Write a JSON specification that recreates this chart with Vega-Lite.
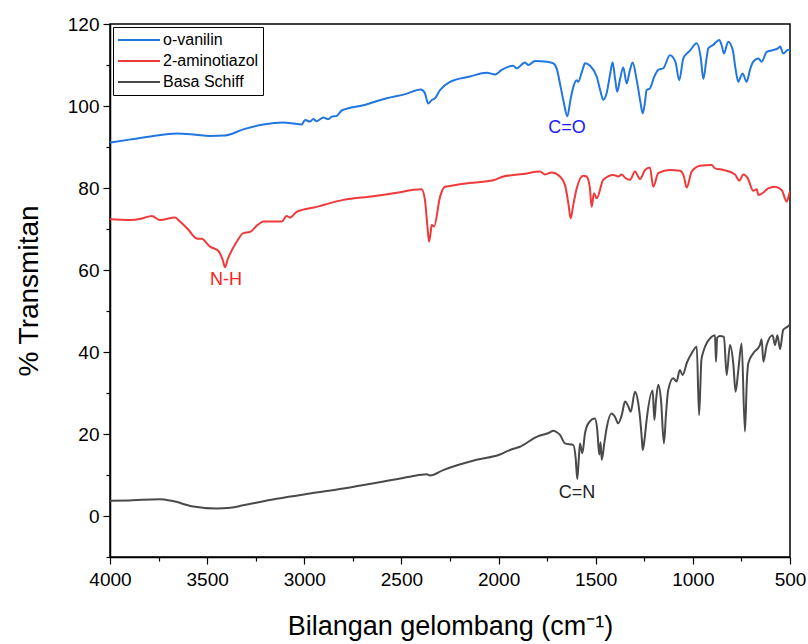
{
  "$schema": "https://vega.github.io/schema/vega-lite/v6.json",
  "width": 680,
  "height": 533,
  "autosize": {"type": "none"},
  "padding": {"left": 110, "top": 24, "right": 18, "bottom": 87},
  "background": "white",
  "config": {
    "font": "Liberation Sans",
    "view": {"stroke": "#000000", "strokeWidth": 1.5},
    "axis": {"grid": false, "domainColor": "#000000", "domainWidth": 1.5, "tickColor": "#000000", "tickWidth": 1.2, "labelColor": "#000000", "titleColor": "#000000", "titleFontWeight": "normal"}
  },
  "datasets": {
    "spectra": [
      {"s": "o-vanilin", "w": 4000, "t": 91.1}, {"s": "o-vanilin", "w": 3900, "t": 91.8}, {"s": "o-vanilin", "w": 3800, "t": 92.5}, {"s": "o-vanilin", "w": 3657, "t": 93.3}, {"s": "o-vanilin", "w": 3560, "t": 93.0}, {"s": "o-vanilin", "w": 3485, "t": 92.7}, {"s": "o-vanilin", "w": 3408, "t": 92.8}, {"s": "o-vanilin", "w": 3314, "t": 94.3}, {"s": "o-vanilin", "w": 3211, "t": 95.5}, {"s": "o-vanilin", "w": 3108, "t": 96.0}, {"s": "o-vanilin", "w": 3065, "t": 95.8}, {"s": "o-vanilin", "w": 3013, "t": 95.5}, {"s": "o-vanilin", "w": 2996, "t": 96.6}, {"s": "o-vanilin", "w": 2971, "t": 96.2}, {"s": "o-vanilin", "w": 2954, "t": 96.8}, {"s": "o-vanilin", "w": 2936, "t": 96.3}, {"s": "o-vanilin", "w": 2902, "t": 97.2}, {"s": "o-vanilin", "w": 2876, "t": 96.8}, {"s": "o-vanilin", "w": 2859, "t": 97.4}, {"s": "o-vanilin", "w": 2833, "t": 97.6}, {"s": "o-vanilin", "w": 2807, "t": 98.9}, {"s": "o-vanilin", "w": 2696, "t": 100.2}, {"s": "o-vanilin", "w": 2576, "t": 101.9}, {"s": "o-vanilin", "w": 2480, "t": 102.9}, {"s": "o-vanilin", "w": 2400, "t": 104.0}, {"s": "o-vanilin", "w": 2380, "t": 103.2}, {"s": "o-vanilin", "w": 2362, "t": 100.6}, {"s": "o-vanilin", "w": 2345, "t": 101.4}, {"s": "o-vanilin", "w": 2327, "t": 101.9}, {"s": "o-vanilin", "w": 2301, "t": 103.9}, {"s": "o-vanilin", "w": 2250, "t": 105.9}, {"s": "o-vanilin", "w": 2147, "t": 107.2}, {"s": "o-vanilin", "w": 2061, "t": 108.1}, {"s": "o-vanilin", "w": 2018, "t": 107.7}, {"s": "o-vanilin", "w": 1984, "t": 108.8}, {"s": "o-vanilin", "w": 1924, "t": 109.8}, {"s": "o-vanilin", "w": 1907, "t": 109.2}, {"s": "o-vanilin", "w": 1864, "t": 110.6}, {"s": "o-vanilin", "w": 1847, "t": 110.0}, {"s": "o-vanilin", "w": 1812, "t": 111.0}, {"s": "o-vanilin", "w": 1752, "t": 110.8}, {"s": "o-vanilin", "w": 1718, "t": 110.4}, {"s": "o-vanilin", "w": 1700, "t": 109.0}, {"s": "o-vanilin", "w": 1684, "t": 105.5}, {"s": "o-vanilin", "w": 1665, "t": 101.0}, {"s": "o-vanilin", "w": 1646, "t": 97.5}, {"s": "o-vanilin", "w": 1630, "t": 101.5}, {"s": "o-vanilin", "w": 1615, "t": 104.7}, {"s": "o-vanilin", "w": 1598, "t": 106.3}, {"s": "o-vanilin", "w": 1590, "t": 105.9}, {"s": "o-vanilin", "w": 1570, "t": 108.5}, {"s": "o-vanilin", "w": 1555, "t": 110.4}, {"s": "o-vanilin", "w": 1529, "t": 109.8}, {"s": "o-vanilin", "w": 1495, "t": 107.2}, {"s": "o-vanilin", "w": 1475, "t": 103.5}, {"s": "o-vanilin", "w": 1461, "t": 101.5}, {"s": "o-vanilin", "w": 1444, "t": 103.1}, {"s": "o-vanilin", "w": 1425, "t": 108.0}, {"s": "o-vanilin", "w": 1413, "t": 110.7}, {"s": "o-vanilin", "w": 1400, "t": 106.5}, {"s": "o-vanilin", "w": 1389, "t": 103.5}, {"s": "o-vanilin", "w": 1375, "t": 106.5}, {"s": "o-vanilin", "w": 1358, "t": 109.4}, {"s": "o-vanilin", "w": 1341, "t": 105.5}, {"s": "o-vanilin", "w": 1325, "t": 108.5}, {"s": "o-vanilin", "w": 1310, "t": 110.6}, {"s": "o-vanilin", "w": 1289, "t": 106.3}, {"s": "o-vanilin", "w": 1270, "t": 101.0}, {"s": "o-vanilin", "w": 1258, "t": 98.2}, {"s": "o-vanilin", "w": 1245, "t": 101.5}, {"s": "o-vanilin", "w": 1238, "t": 103.9}, {"s": "o-vanilin", "w": 1221, "t": 104.3}, {"s": "o-vanilin", "w": 1200, "t": 107.0}, {"s": "o-vanilin", "w": 1178, "t": 108.8}, {"s": "o-vanilin", "w": 1152, "t": 109.2}, {"s": "o-vanilin", "w": 1118, "t": 112.4}, {"s": "o-vanilin", "w": 1090, "t": 110.8}, {"s": "o-vanilin", "w": 1070, "t": 106.3}, {"s": "o-vanilin", "w": 1049, "t": 111.6}, {"s": "o-vanilin", "w": 1015, "t": 113.5}, {"s": "o-vanilin", "w": 980, "t": 115.3}, {"s": "o-vanilin", "w": 960, "t": 112.0}, {"s": "o-vanilin", "w": 946, "t": 106.6}, {"s": "o-vanilin", "w": 930, "t": 111.5}, {"s": "o-vanilin", "w": 920, "t": 114.1}, {"s": "o-vanilin", "w": 895, "t": 114.9}, {"s": "o-vanilin", "w": 864, "t": 116.1}, {"s": "o-vanilin", "w": 850, "t": 114.5}, {"s": "o-vanilin", "w": 840, "t": 112.8}, {"s": "o-vanilin", "w": 818, "t": 115.7}, {"s": "o-vanilin", "w": 795, "t": 113.7}, {"s": "o-vanilin", "w": 780, "t": 109.0}, {"s": "o-vanilin", "w": 766, "t": 105.9}, {"s": "o-vanilin", "w": 755, "t": 107.0}, {"s": "o-vanilin", "w": 744, "t": 107.9}, {"s": "o-vanilin", "w": 723, "t": 105.9}, {"s": "o-vanilin", "w": 705, "t": 109.0}, {"s": "o-vanilin", "w": 689, "t": 110.8}, {"s": "o-vanilin", "w": 663, "t": 111.6}, {"s": "o-vanilin", "w": 646, "t": 110.8}, {"s": "o-vanilin", "w": 620, "t": 113.2}, {"s": "o-vanilin", "w": 590, "t": 113.6}, {"s": "o-vanilin", "w": 560, "t": 114.1}, {"s": "o-vanilin", "w": 551, "t": 114.5}, {"s": "o-vanilin", "w": 535, "t": 112.8}, {"s": "o-vanilin", "w": 509, "t": 113.7}, {"s": "o-vanilin", "w": 500, "t": 113.6},
      {"s": "2-aminotiazol", "w": 4000, "t": 72.4}, {"s": "2-aminotiazol", "w": 3897, "t": 72.2}, {"s": "2-aminotiazol", "w": 3840, "t": 72.5}, {"s": "2-aminotiazol", "w": 3785, "t": 73.2}, {"s": "2-aminotiazol", "w": 3743, "t": 72.2}, {"s": "2-aminotiazol", "w": 3665, "t": 72.8}, {"s": "2-aminotiazol", "w": 3640, "t": 71.8}, {"s": "2-aminotiazol", "w": 3600, "t": 70.0}, {"s": "2-aminotiazol", "w": 3554, "t": 67.7}, {"s": "2-aminotiazol", "w": 3528, "t": 67.6}, {"s": "2-aminotiazol", "w": 3485, "t": 65.7}, {"s": "2-aminotiazol", "w": 3443, "t": 64.7}, {"s": "2-aminotiazol", "w": 3420, "t": 62.5}, {"s": "2-aminotiazol", "w": 3408, "t": 60.7}, {"s": "2-aminotiazol", "w": 3395, "t": 62.5}, {"s": "2-aminotiazol", "w": 3348, "t": 66.9}, {"s": "2-aminotiazol", "w": 3314, "t": 69.0}, {"s": "2-aminotiazol", "w": 3279, "t": 69.3}, {"s": "2-aminotiazol", "w": 3240, "t": 71.0}, {"s": "2-aminotiazol", "w": 3211, "t": 71.8}, {"s": "2-aminotiazol", "w": 3116, "t": 71.8}, {"s": "2-aminotiazol", "w": 3091, "t": 73.2}, {"s": "2-aminotiazol", "w": 3074, "t": 72.8}, {"s": "2-aminotiazol", "w": 3039, "t": 74.2}, {"s": "2-aminotiazol", "w": 2936, "t": 75.4}, {"s": "2-aminotiazol", "w": 2799, "t": 77.1}, {"s": "2-aminotiazol", "w": 2645, "t": 78.0}, {"s": "2-aminotiazol", "w": 2542, "t": 78.7}, {"s": "2-aminotiazol", "w": 2396, "t": 79.7}, {"s": "2-aminotiazol", "w": 2379, "t": 77.1}, {"s": "2-aminotiazol", "w": 2365, "t": 70.0}, {"s": "2-aminotiazol", "w": 2358, "t": 66.9}, {"s": "2-aminotiazol", "w": 2350, "t": 69.0}, {"s": "2-aminotiazol", "w": 2344, "t": 71.0}, {"s": "2-aminotiazol", "w": 2332, "t": 70.6}, {"s": "2-aminotiazol", "w": 2301, "t": 77.9}, {"s": "2-aminotiazol", "w": 2276, "t": 80.3}, {"s": "2-aminotiazol", "w": 2250, "t": 80.5}, {"s": "2-aminotiazol", "w": 2150, "t": 81.2}, {"s": "2-aminotiazol", "w": 2027, "t": 81.9}, {"s": "2-aminotiazol", "w": 1976, "t": 82.8}, {"s": "2-aminotiazol", "w": 1873, "t": 83.4}, {"s": "2-aminotiazol", "w": 1787, "t": 84.0}, {"s": "2-aminotiazol", "w": 1761, "t": 83.3}, {"s": "2-aminotiazol", "w": 1727, "t": 83.8}, {"s": "2-aminotiazol", "w": 1684, "t": 82.8}, {"s": "2-aminotiazol", "w": 1658, "t": 80.7}, {"s": "2-aminotiazol", "w": 1640, "t": 76.0}, {"s": "2-aminotiazol", "w": 1629, "t": 72.6}, {"s": "2-aminotiazol", "w": 1615, "t": 76.0}, {"s": "2-aminotiazol", "w": 1598, "t": 79.9}, {"s": "2-aminotiazol", "w": 1564, "t": 83.0}, {"s": "2-aminotiazol", "w": 1547, "t": 82.8}, {"s": "2-aminotiazol", "w": 1530, "t": 80.0}, {"s": "2-aminotiazol", "w": 1521, "t": 75.4}, {"s": "2-aminotiazol", "w": 1509, "t": 78.7}, {"s": "2-aminotiazol", "w": 1495, "t": 77.5}, {"s": "2-aminotiazol", "w": 1461, "t": 82.0}, {"s": "2-aminotiazol", "w": 1409, "t": 83.2}, {"s": "2-aminotiazol", "w": 1384, "t": 82.8}, {"s": "2-aminotiazol", "w": 1366, "t": 83.3}, {"s": "2-aminotiazol", "w": 1349, "t": 82.5}, {"s": "2-aminotiazol", "w": 1323, "t": 82.0}, {"s": "2-aminotiazol", "w": 1298, "t": 84.0}, {"s": "2-aminotiazol", "w": 1272, "t": 82.2}, {"s": "2-aminotiazol", "w": 1246, "t": 84.4}, {"s": "2-aminotiazol", "w": 1221, "t": 85.0}, {"s": "2-aminotiazol", "w": 1204, "t": 80.3}, {"s": "2-aminotiazol", "w": 1178, "t": 83.6}, {"s": "2-aminotiazol", "w": 1118, "t": 84.4}, {"s": "2-aminotiazol", "w": 1066, "t": 84.2}, {"s": "2-aminotiazol", "w": 1046, "t": 82.8}, {"s": "2-aminotiazol", "w": 1032, "t": 80.1}, {"s": "2-aminotiazol", "w": 1006, "t": 84.0}, {"s": "2-aminotiazol", "w": 963, "t": 85.4}, {"s": "2-aminotiazol", "w": 903, "t": 85.6}, {"s": "2-aminotiazol", "w": 886, "t": 84.8}, {"s": "2-aminotiazol", "w": 843, "t": 84.4}, {"s": "2-aminotiazol", "w": 783, "t": 83.3}, {"s": "2-aminotiazol", "w": 761, "t": 81.8}, {"s": "2-aminotiazol", "w": 740, "t": 83.3}, {"s": "2-aminotiazol", "w": 718, "t": 82.4}, {"s": "2-aminotiazol", "w": 689, "t": 79.3}, {"s": "2-aminotiazol", "w": 671, "t": 79.7}, {"s": "2-aminotiazol", "w": 663, "t": 78.3}, {"s": "2-aminotiazol", "w": 637, "t": 78.9}, {"s": "2-aminotiazol", "w": 612, "t": 79.9}, {"s": "2-aminotiazol", "w": 577, "t": 80.3}, {"s": "2-aminotiazol", "w": 543, "t": 79.5}, {"s": "2-aminotiazol", "w": 517, "t": 76.7}, {"s": "2-aminotiazol", "w": 503, "t": 78.7}, {"s": "2-aminotiazol", "w": 500, "t": 79.2},
      {"s": "Basa Schiff", "w": 4000, "t": 3.7}, {"s": "Basa Schiff", "w": 3900, "t": 3.8}, {"s": "Basa Schiff", "w": 3743, "t": 4.1}, {"s": "Basa Schiff", "w": 3682, "t": 3.7}, {"s": "Basa Schiff", "w": 3571, "t": 2.3}, {"s": "Basa Schiff", "w": 3451, "t": 1.8}, {"s": "Basa Schiff", "w": 3380, "t": 2.0}, {"s": "Basa Schiff", "w": 3314, "t": 2.6}, {"s": "Basa Schiff", "w": 3142, "t": 4.2}, {"s": "Basa Schiff", "w": 2971, "t": 5.5}, {"s": "Basa Schiff", "w": 2799, "t": 6.7}, {"s": "Basa Schiff", "w": 2627, "t": 8.1}, {"s": "Basa Schiff", "w": 2456, "t": 9.6}, {"s": "Basa Schiff", "w": 2370, "t": 10.2}, {"s": "Basa Schiff", "w": 2353, "t": 9.9}, {"s": "Basa Schiff", "w": 2285, "t": 11.2}, {"s": "Basa Schiff", "w": 2113, "t": 13.7}, {"s": "Basa Schiff", "w": 1993, "t": 15.0}, {"s": "Basa Schiff", "w": 1941, "t": 16.1}, {"s": "Basa Schiff", "w": 1890, "t": 16.9}, {"s": "Basa Schiff", "w": 1804, "t": 19.3}, {"s": "Basa Schiff", "w": 1740, "t": 20.3}, {"s": "Basa Schiff", "w": 1718, "t": 20.8}, {"s": "Basa Schiff", "w": 1700, "t": 20.4}, {"s": "Basa Schiff", "w": 1684, "t": 19.8}, {"s": "Basa Schiff", "w": 1658, "t": 17.7}, {"s": "Basa Schiff", "w": 1615, "t": 17.3}, {"s": "Basa Schiff", "w": 1603, "t": 14.0}, {"s": "Basa Schiff", "w": 1595, "t": 9.0}, {"s": "Basa Schiff", "w": 1587, "t": 14.0}, {"s": "Basa Schiff", "w": 1581, "t": 17.7}, {"s": "Basa Schiff", "w": 1569, "t": 15.3}, {"s": "Basa Schiff", "w": 1555, "t": 20.2}, {"s": "Basa Schiff", "w": 1538, "t": 22.6}, {"s": "Basa Schiff", "w": 1504, "t": 23.8}, {"s": "Basa Schiff", "w": 1492, "t": 21.0}, {"s": "Basa Schiff", "w": 1482, "t": 15.0}, {"s": "Basa Schiff", "w": 1475, "t": 18.0}, {"s": "Basa Schiff", "w": 1469, "t": 13.7}, {"s": "Basa Schiff", "w": 1455, "t": 18.0}, {"s": "Basa Schiff", "w": 1444, "t": 21.4}, {"s": "Basa Schiff", "w": 1418, "t": 25.0}, {"s": "Basa Schiff", "w": 1401, "t": 24.2}, {"s": "Basa Schiff", "w": 1384, "t": 22.6}, {"s": "Basa Schiff", "w": 1366, "t": 24.6}, {"s": "Basa Schiff", "w": 1349, "t": 27.9}, {"s": "Basa Schiff", "w": 1332, "t": 26.7}, {"s": "Basa Schiff", "w": 1320, "t": 25.4}, {"s": "Basa Schiff", "w": 1298, "t": 30.3}, {"s": "Basa Schiff", "w": 1281, "t": 27.5}, {"s": "Basa Schiff", "w": 1268, "t": 22.0}, {"s": "Basa Schiff", "w": 1263, "t": 19.0}, {"s": "Basa Schiff", "w": 1258, "t": 16.1}, {"s": "Basa Schiff", "w": 1248, "t": 19.0}, {"s": "Basa Schiff", "w": 1238, "t": 23.4}, {"s": "Basa Schiff", "w": 1207, "t": 30.6}, {"s": "Basa Schiff", "w": 1198, "t": 23.4}, {"s": "Basa Schiff", "w": 1190, "t": 28.0}, {"s": "Basa Schiff", "w": 1178, "t": 32.0}, {"s": "Basa Schiff", "w": 1164, "t": 28.3}, {"s": "Basa Schiff", "w": 1149, "t": 17.7}, {"s": "Basa Schiff", "w": 1138, "t": 25.0}, {"s": "Basa Schiff", "w": 1127, "t": 30.7}, {"s": "Basa Schiff", "w": 1101, "t": 33.6}, {"s": "Basa Schiff", "w": 1084, "t": 32.8}, {"s": "Basa Schiff", "w": 1067, "t": 35.6}, {"s": "Basa Schiff", "w": 1053, "t": 34.4}, {"s": "Basa Schiff", "w": 1030, "t": 37.5}, {"s": "Basa Schiff", "w": 1006, "t": 39.7}, {"s": "Basa Schiff", "w": 980, "t": 41.3}, {"s": "Basa Schiff", "w": 968, "t": 24.6}, {"s": "Basa Schiff", "w": 956, "t": 38.0}, {"s": "Basa Schiff", "w": 946, "t": 40.1}, {"s": "Basa Schiff", "w": 903, "t": 43.7}, {"s": "Basa Schiff", "w": 886, "t": 44.1}, {"s": "Basa Schiff", "w": 881, "t": 37.6}, {"s": "Basa Schiff", "w": 875, "t": 43.5}, {"s": "Basa Schiff", "w": 860, "t": 43.9}, {"s": "Basa Schiff", "w": 840, "t": 43.7}, {"s": "Basa Schiff", "w": 826, "t": 34.4}, {"s": "Basa Schiff", "w": 809, "t": 41.7}, {"s": "Basa Schiff", "w": 792, "t": 37.2}, {"s": "Basa Schiff", "w": 780, "t": 30.3}, {"s": "Basa Schiff", "w": 766, "t": 35.6}, {"s": "Basa Schiff", "w": 749, "t": 42.1}, {"s": "Basa Schiff", "w": 732, "t": 20.6}, {"s": "Basa Schiff", "w": 722, "t": 33.0}, {"s": "Basa Schiff", "w": 715, "t": 37.2}, {"s": "Basa Schiff", "w": 689, "t": 39.7}, {"s": "Basa Schiff", "w": 655, "t": 41.7}, {"s": "Basa Schiff", "w": 646, "t": 43.1}, {"s": "Basa Schiff", "w": 637, "t": 37.6}, {"s": "Basa Schiff", "w": 620, "t": 41.7}, {"s": "Basa Schiff", "w": 590, "t": 44.1}, {"s": "Basa Schiff", "w": 577, "t": 41.7}, {"s": "Basa Schiff", "w": 565, "t": 44.1}, {"s": "Basa Schiff", "w": 551, "t": 40.7}, {"s": "Basa Schiff", "w": 535, "t": 45.4}, {"s": "Basa Schiff", "w": 509, "t": 46.3}, {"s": "Basa Schiff", "w": 500, "t": 46.8}
    ],
    "labels": [
      {"label": "C=O", "s": "o-vanilin", "w": 1648, "t": 94.6},
      {"label": "N-H", "s": "2-aminotiazol", "w": 3403, "t": 57.6},
      {"label": "C=N", "s": "Basa Schiff", "w": 1596, "t": 5.6}
    ]
  },
  "layer": [
    {
      "data": {"name": "spectra"},
      "mark": {"type": "line", "strokeWidth": 2, "clip": true, "interpolate": "monotone"},
      "encoding": {
        "x": {"field": "w", "type": "quantitative",
          "scale": {"domain": [500, 4000], "reverse": true, "nice": false, "zero": false},
          "axis": {"orient": "bottom", "values": [4000, 3500, 3000, 2500, 2000, 1500, 1000, 500], "format": "d", "tickSize": 7, "labelFontSize": 19, "labelPadding": 6, "labelFlush": false, "labelOverlap": false,
            "title": "Bilangan gelombang (cm⁻¹)", "titleFontSize": 27, "titlePadding": 24}},
        "y": {"field": "t", "type": "quantitative",
          "scale": {"domain": [-10, 120], "nice": false, "zero": false},
          "axis": {"orient": "left", "values": [0, 20, 40, 60, 80, 100, 120], "format": "d", "tickSize": 7, "labelFontSize": 19, "labelPadding": 4, "labelFlush": false, "labelOverlap": false,
            "title": "% Transmitan", "titleFontSize": 28, "titlePadding": 24}},
        "color": {"field": "s", "type": "nominal",
          "scale": {"domain": ["o-vanilin", "2-aminotiazol", "Basa Schiff"], "range": ["#2276e0", "#ee3a3a", "#4a4a4a"]},
          "legend": {"title": null, "orient": "top-left", "offset": 3, "symbolType": "stroke", "symbolSize": 1764, "symbolStrokeWidth": 2, "clipHeight": 18, "labelFontSize": 16, "labelColor": "#000000", "labelOffset": 2, "rowPadding": 3, "padding": 4, "strokeColor": "#000000", "fillColor": "#ffffff", "cornerRadius": 0}}
      }
    },
    {
      "data": {"name": "labels"},
      "mark": {"type": "text", "fontSize": 18, "align": "center", "baseline": "middle"},
      "encoding": {
        "x": {"field": "w", "type": "quantitative",
          "axis": {"orient": "bottom", "values": [3750, 3250, 2750, 2250, 1750, 1250, 750], "tickSize": 4, "labels": false, "domain": false, "title": null}},
        "y": {"field": "t", "type": "quantitative",
          "axis": {"orient": "left", "values": [-10, 10, 30, 50, 70, 90, 110], "tickSize": 4, "labels": false, "domain": false, "title": null}},
        "text": {"field": "label"},
        "color": {"field": "s", "type": "nominal",
          "scale": {"domain": ["o-vanilin", "2-aminotiazol", "Basa Schiff"], "range": ["#1a1aff", "#ff2020", "#222222"]},
          "legend": null}
      }
    }
  ],
  "resolve": {"scale": {"color": "independent"}, "axis": {"x": "independent", "y": "independent"}}
}
